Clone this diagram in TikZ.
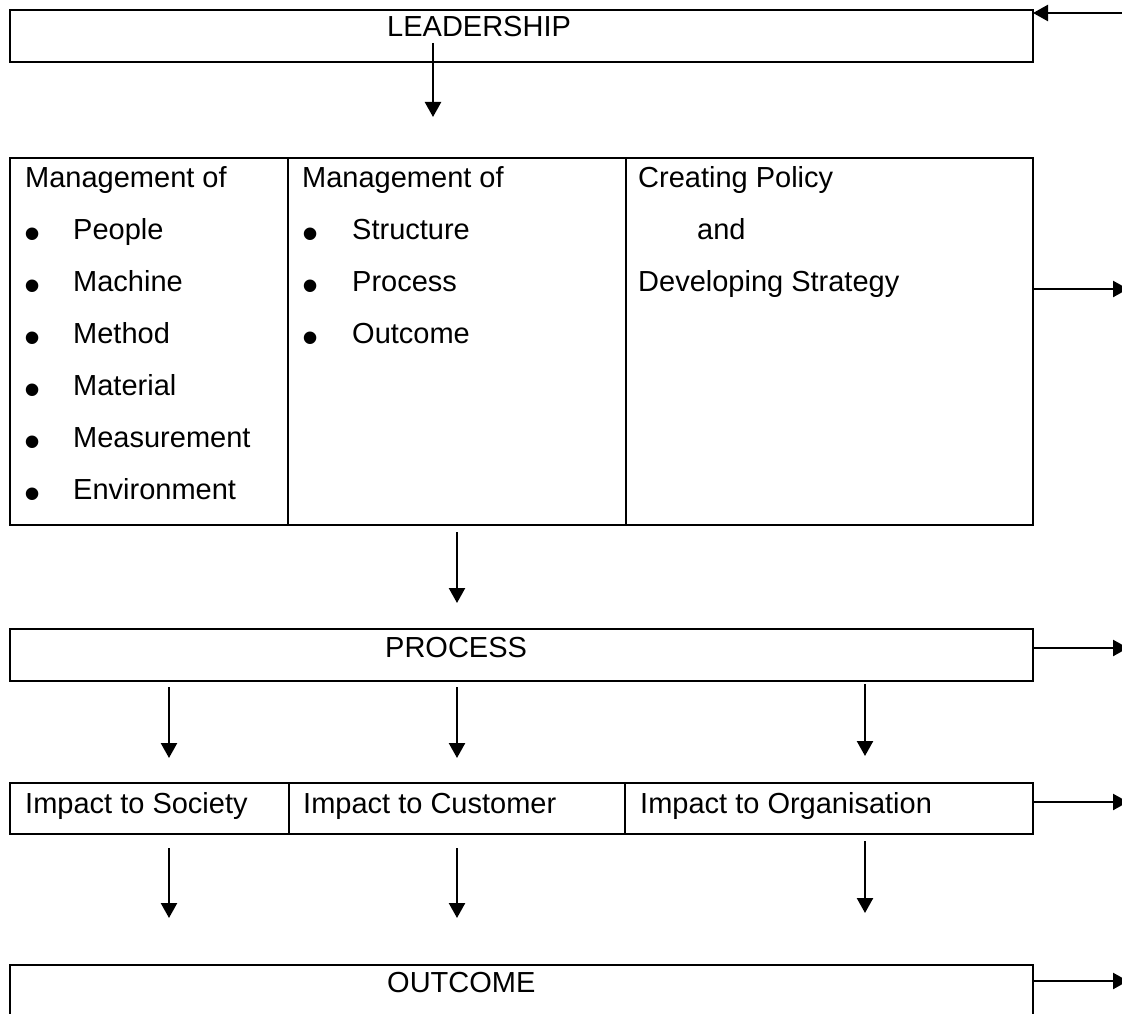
\documentclass[tikz,border=0pt]{standalone}
\usepackage{fontspec}
\setmainfont{Liberation Sans}
\usetikzlibrary{arrows.meta, positioning}

\begin{document}
\begin{tikzpicture}[
  x=1pt, y=-1pt,
  box/.style={draw, line width=2.6pt, rectangle, anchor=north west, inner sep=0pt, outer sep=0pt},
  txt/.style={anchor=base west, inner sep=0pt, font=\fontsize{29}{34}\selectfont},
  bul/.style={txt, font=\fontsize{46}{50}\selectfont, yshift=-10pt},
  flow/.style={-{Triangle[length=15pt, width=16pt]}, line width=2.4pt}
]
\useasboundingbox (0,0) rectangle (1122,1014);

% boxes
\node[box, minimum width=1023pt, minimum height=52pt] (lead) at (10,10) {};
\node[box, minimum width=278pt, minimum height=367pt] (mgmtA) at (10,158) {};
\node[box, minimum width=338pt, minimum height=367pt] (mgmtB) at (288,158) {};
\node[box, minimum width=407pt, minimum height=367pt] (policy) at (626,158) {};
\node[box, minimum width=1023pt, minimum height=52pt] (proc) at (10,629) {};
\node[box, minimum width=279pt, minimum height=51pt] (society) at (10,783) {};
\node[box, minimum width=336pt, minimum height=51pt] (customer) at (289,783) {};
\node[box, minimum width=408pt, minimum height=51pt] (organ) at (625,783) {};
\node[box, minimum width=1023pt, minimum height=70pt] (outc) at (10,965) {};

% labels
\node[txt] (leadT) at (387,37) {LEADERSHIP};
\node[txt] (mgmtAT) at (25,187) {Management of};
\foreach \word [count=\i] in {People, Machine, Method, Material, Measurement, Environment}
  \node[bul] (bA\i) at (24,187+52*\i) {•} node[txt] (iA\i) at (73,187+52*\i) {\word};
\node[txt] (mgmtBT) at (302,187) {Management of};
\foreach \word [count=\i] in {Structure, Process, Outcome}
  \node[bul] (bB\i) at (302,187+52*\i) {•} node[txt] (iB\i) at (352,187+52*\i) {\word};
\node[txt] (pol1) at (638,187) {Creating Policy};
\node[txt] (pol2) at (697,239) {and};
\node[txt] (pol3) at (638,291) {Developing Strategy};
\node[txt] (procT) at (385,657) {PROCESS};
\node[txt] (socT) at (25,813) {Impact to Society};
\node[txt] (cusT) at (303,813) {Impact to Customer};
\node[txt] (orgT) at (640,813) {Impact to Organisation};
\node[txt] (outcT) at (387,992) {OUTCOME};

% feedback into the top box
\coordinate (feed) at (1130,13);
\draw[flow] (feed) -- (feed -| lead.east);

% downward arrows
\foreach \x/\ya/\yb [count=\i] in {433/43/117, 457/532/603, 169/687/758, 457/687/758,
    865/684/756, 169/848/918, 457/848/918, 865/841/913} {
  \coordinate (s\i) at (\x,\ya);
  \coordinate (e\i) at (\x,\yb);
  \draw[flow] (s\i) -- (e\i);
}

% arrows leaving on the right
\foreach \n/\y in {policy/289, proc/648, organ/802, outc/981} {
  \coordinate (\n-out) at (1128,\y);
  \draw[flow] (\n-out -| \n.east) -- (\n-out);
}
\end{tikzpicture}
\end{document}
